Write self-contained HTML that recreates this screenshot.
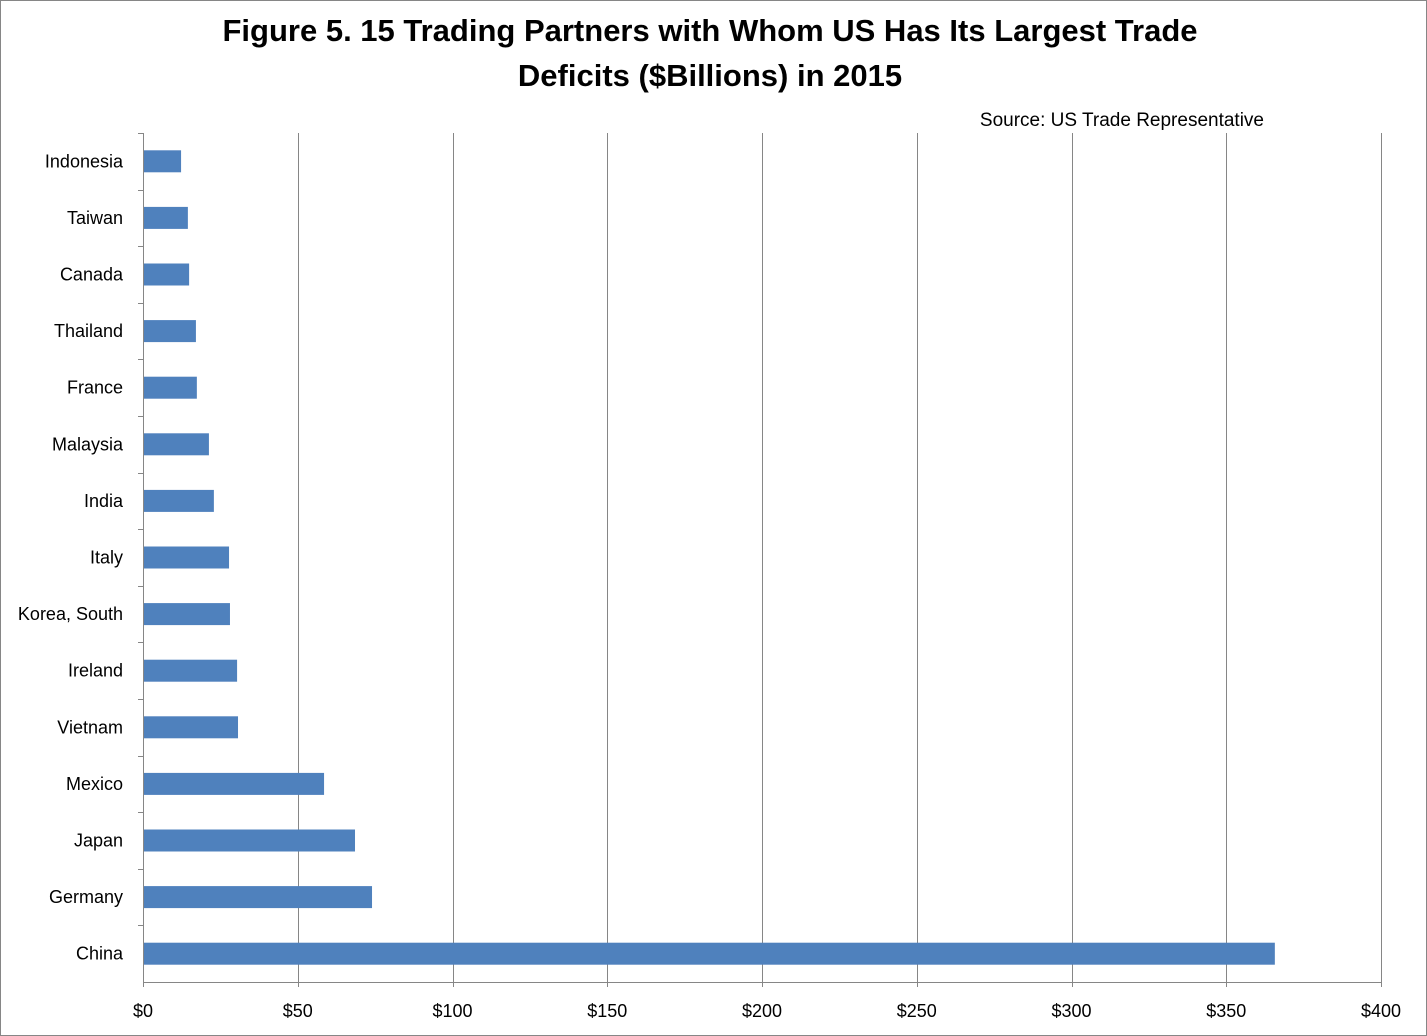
<!DOCTYPE html>
<html><head><meta charset="utf-8"><style>
html,body{margin:0;padding:0;background:#fff;}
svg{display:block;font-family:"Liberation Sans",sans-serif;}
</style></head><body>
<svg id="chart" width="1427" height="1036" viewBox="0 0 1427 1036">
<rect x="0.5" y="0.5" width="1426" height="1035" fill="#fff" stroke="#868686"/>
<text x="710" y="41" text-anchor="middle" font-size="31" font-weight="bold">Figure 5. 15 Trading Partners with Whom US Has Its Largest Trade</text>
<text x="710" y="86" text-anchor="middle" font-size="31" font-weight="bold">Deficits ($Billions) in 2015</text>
<text x="1264" y="126" text-anchor="end" font-size="19">Source: US Trade Representative</text>
<g id="grid"></g><g id="bars"></g><g id="ylabels"></g><g id="xlabels"></g>
</svg>
<script>
const categories=["Indonesia","Taiwan","Canada","Thailand","France","Malaysia","India","Italy","Korea, South","Ireland","Vietnam","Mexico","Japan","Germany","China"];
const values=[12.3,14.5,14.9,17.1,17.4,21.3,22.9,27.8,28.1,30.4,30.7,58.5,68.5,74.0,365.7];
const tickValues=[0,50,100,150,200,250,300,350,400];
const tickLabels=["$0","$50","$100","$150","$200","$250","$300","$350","$400"];
const NS="http://www.w3.org/2000/svg";
const x0=143,x1=1381,yTop=133,yBottom=982;
const xs=v=>x0+(v/400)*(x1-x0);
const band=(yBottom-yTop)/categories.length;
const yc=i=>yTop+band*(i+0.5);
function mk(t,a){const e=document.createElementNS(NS,t);for(const k in a)e.setAttribute(k,a[k]);return e;}
const grid=document.getElementById('grid'),bars=document.getElementById('bars'),yl=document.getElementById('ylabels'),xl=document.getElementById('xlabels');
tickValues.forEach((v,i)=>{
  const x=Math.round(xs(v))+0.5;
  const l=mk('line',{x1:x,x2:x,y1:yTop,y2:yBottom+5,stroke:'#868686','stroke-width':1});
  
  
  grid.appendChild(l);
  const t=mk('text',{x:xs(v),y:1017,'text-anchor':'middle','font-size':18});
  t.textContent=tickLabels[i];
  
  
  xl.appendChild(t);
});
const ax=mk('line',{x1:x0,x2:x1,y1:yBottom+0.5,y2:yBottom+0.5,stroke:'#868686'});


grid.appendChild(ax);
categories.forEach((c,i)=>{
  const y=yc(i);
  const ty=Math.round(yTop+band*i)+0.5;
  const tk=mk('line',{x1:x0-5,x2:x0,y1:ty,y2:ty,stroke:'#868686'});
  
  
  grid.appendChild(tk);
  const r=mk('rect',{x:x0+1,y:y-11,width:xs(values[i])-x0-1,height:22,fill:'#4f81bd'});
  
  
  bars.appendChild(r);
  const t=mk('text',{x:123,y:y+6,'text-anchor':'end','font-size':18});
  t.textContent=c;
  
  
  yl.appendChild(t);
});
</script>
</body></html>
